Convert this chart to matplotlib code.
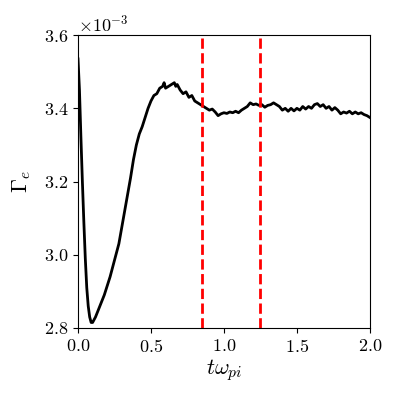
import numpy as np
import matplotlib
matplotlib.use("Agg")
import matplotlib.pyplot as plt

plt.rcParams["font.family"] = "serif"
plt.rcParams["font.serif"] = ["cmr10"]
plt.rcParams["mathtext.fontset"] = "cm"
plt.rcParams["axes.formatter.use_mathtext"] = True
plt.rcParams["font.size"] = 13

# tempo normalizzato t*omega_pi
t = [0.0, 0.01, 0.02, 0.03, 0.04, 0.05, 0.06, 0.07, 0.08, 0.09, 0.10,
     0.12, 0.14, 0.16, 0.18, 0.20, 0.22, 0.24, 0.26, 0.28, 0.30,
     0.32, 0.34, 0.36, 0.38, 0.40, 0.42, 0.44, 0.46, 0.48, 0.50,
     0.52, 0.54, 0.56, 0.58, 0.59, 0.60, 0.62, 0.64, 0.66, 0.67, 0.68,
     0.70, 0.72, 0.74, 0.76, 0.78, 0.80, 0.82, 0.84, 0.86, 0.88, 0.90,
     0.92, 0.94, 0.96, 0.98, 1.00, 1.02, 1.04, 1.06, 1.08, 1.10,
     1.12, 1.14, 1.16, 1.18, 1.20, 1.22, 1.24, 1.26, 1.28, 1.30,
     1.32, 1.34, 1.36, 1.38, 1.40, 1.42, 1.44, 1.46, 1.48, 1.50,
     1.52, 1.54, 1.56, 1.58, 1.60, 1.62, 1.64, 1.66, 1.68, 1.70,
     1.72, 1.74, 1.76, 1.78, 1.80, 1.82, 1.84, 1.86, 1.88, 1.90,
     1.92, 1.94, 1.96, 1.98, 2.00]

# flusso Gamma_e (unita' 1e-3)
gamma_e = [3.535, 3.45, 3.32, 3.20, 3.09, 2.99, 2.91, 2.86, 2.83, 2.815, 2.815,
           2.83, 2.85, 2.87, 2.89, 2.915, 2.94, 2.97, 3.00, 3.03, 3.075,
           3.12, 3.165, 3.21, 3.26, 3.30, 3.33, 3.35, 3.375, 3.40, 3.42,
           3.435, 3.44, 3.455, 3.46, 3.47, 3.455, 3.46, 3.465, 3.47, 3.46, 3.465,
           3.45, 3.44, 3.445, 3.43, 3.435, 3.42, 3.415, 3.41, 3.405, 3.40, 3.395,
           3.398, 3.39, 3.38, 3.385, 3.388, 3.386, 3.39, 3.388, 3.392, 3.388,
           3.395, 3.40, 3.405, 3.415, 3.41, 3.412, 3.408, 3.41, 3.403, 3.408,
           3.41, 3.415, 3.41, 3.405, 3.395, 3.40, 3.392, 3.40, 3.393, 3.40,
           3.395, 3.405, 3.398, 3.405, 3.40, 3.41, 3.413, 3.405, 3.41, 3.40,
           3.405, 3.395, 3.402, 3.395, 3.385, 3.39, 3.387, 3.392, 3.385, 3.39,
           3.385, 3.388, 3.383, 3.38, 3.375]

t_lines = [0.85, 1.25]

fig = plt.figure(figsize=(3.99, 3.99), dpi=100)
ax = fig.add_axes([0.1955, 0.178, 0.7315, 0.734])

ax.plot(t, np.array(gamma_e) * 1e-3, color="black", lw=2)
for tl in t_lines:
    ax.axvline(tl, color="red", ls="--", lw=2)

ax.set_xlim(0, 2)
ax.set_ylim(2.8e-3, 3.6e-3)
ax.set_xticks([0.0, 0.5, 1.0, 1.5, 2.0])
ax.set_yticks([2.8e-3, 3.0e-3, 3.2e-3, 3.4e-3, 3.6e-3])
ax.ticklabel_format(axis="y", style="sci", scilimits=(0, 0))
ax.set_xlabel(r"$t\omega_{pi}$", fontsize=16, labelpad=2)
ax.set_ylabel(r"$\Gamma_e$", fontsize=16, labelpad=8)

fig.savefig("out.png", dpi=100)
